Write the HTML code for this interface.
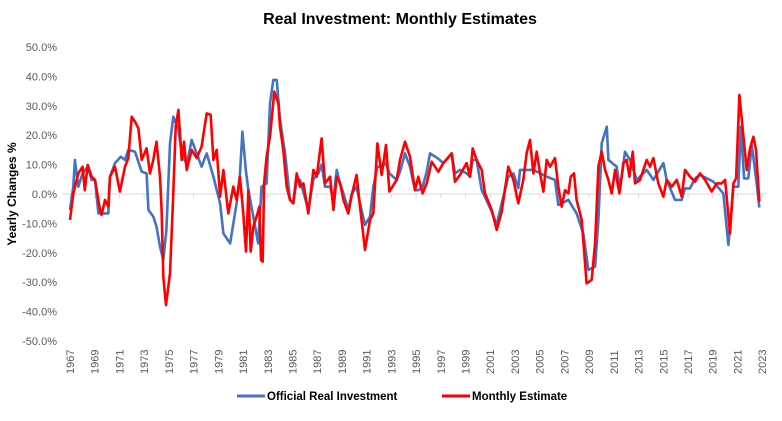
<!DOCTYPE html>
<html><head><meta charset="utf-8"><style>
body{margin:0;background:#fff;width:782px;height:416px;overflow:hidden;font-family:"Liberation Sans",sans-serif}
svg text{font-family:"Liberation Sans",sans-serif}
</style></head><body>
<svg id="chart" width="782" height="416" viewBox="0 0 782 416" xmlns="http://www.w3.org/2000/svg">
<text x="400" y="24" text-anchor="middle" font-size="16" font-weight="bold" fill="#000">Real Investment: Monthly Estimates</text>
<text transform="translate(16,194) rotate(-90)" text-anchor="middle" font-size="12" font-weight="bold" fill="#000">Yearly Changes %</text>
<g id="yticks"></g><g id="xticks"></g><g id="series"></g>
<g>
<line x1="237" y1="396" x2="265" y2="396" stroke="#4472C4" stroke-width="3"/>
<text x="267" y="400" font-size="11.5" font-weight="bold">Official Real Investment</text>
<line x1="442" y1="396" x2="470" y2="396" stroke="#FF0000" stroke-width="3"/>
<text x="472" y="400" font-size="11.5" font-weight="bold">Monthly Estimate</text>
</g>
</svg>
<script>
const yTickVals=[50,40,30,20,10,0,-10,-20,-30,-40,-50];
const xTickYears=[1967,1969,1971,1973,1975,1977,1979,1981,1983,1985,1987,1989,1991,1993,1995,1997,1999,2001,2003,2005,2007,2009,2011,2013,2015,2017,2019,2021,2023];
const redYears=[1967.0,1967.27,1967.67,1968.02,1968.2,1968.43,1968.75,1969.02,1969.43,1969.56,1969.83,1970.1,1970.24,1970.64,1971.04,1971.45,1971.72,1971.99,1972.26,1972.53,1972.8,1973.2,1973.47,1973.74,1974.0,1974.28,1974.41,1974.55,1974.77,1975.09,1975.36,1975.55,1975.77,1976.04,1976.22,1976.44,1976.85,1977.25,1977.65,1978.06,1978.38,1978.6,1978.87,1979.14,1979.41,1979.81,1980.21,1980.48,1980.75,1981.02,1981.24,1981.43,1981.62,1981.83,1982.1,1982.32,1982.45,1982.59,1982.7,1982.91,1983.18,1983.53,1983.86,1983.99,1984.26,1984.53,1984.8,1985.07,1985.34,1985.61,1985.88,1986.28,1986.69,1986.96,1987.36,1987.63,1988.04,1988.31,1988.58,1988.85,1989.12,1989.52,1989.79,1990.19,1990.46,1990.87,1991.27,1991.54,1991.87,1992.22,1992.57,1992.84,1993.43,1993.70,1994.10,1994.51,1994.91,1995.18,1995.53,1995.86,1996.26,1996.80,1997.21,1997.88,1998.15,1998.55,1999.09,1999.36,1999.58,1999.90,2000.31,2000.58,2001.12,2001.52,2001.93,2002.46,2002.87,2003.27,2003.68,2003.95,2004.22,2004.49,2004.76,2005.03,2005.30,2005.57,2005.84,2006.24,2006.51,2006.78,2007.05,2007.32,2007.51,2007.78,2007.99,2008.40,2008.80,2009.21,2009.48,2009.75,2010.02,2010.29,2010.56,2010.83,2011.10,2011.45,2011.77,2012.04,2012.26,2012.53,2012.71,2013.12,2013.66,2013.93,2014.20,2014.60,2015.01,2015.28,2015.68,2016.09,2016.49,2016.76,2017.16,2017.57,2017.97,2018.38,2018.92,2019.32,2019.73,2020.0,2020.40,2020.67,2020.89,2021.16,2021.43,2021.75,2022.02,2022.29,2022.5,2022.77];
const redVals=[-8.8,0.2,7.0,9.3,1.3,9.9,5.9,4.8,-5.4,-7.1,-2.0,-4.3,5.9,9.3,0.8,9.3,12.2,26.3,24.6,22.3,11.6,15.5,7.0,11.6,17.8,5.9,-5.4,-28.1,-37.8,-27.0,0.2,22.9,28.6,11.6,17.8,8.2,15.0,12.2,16.1,27.4,26.9,11.6,15.0,-0.9,8.2,-6.6,2.5,-2.0,5.9,-6.6,-19.6,1.3,-19.6,-11.1,-7.7,-4.3,-22.4,-23.0,3.6,12.7,19.5,34.8,30.8,22.9,15.0,2.5,-2.0,-3.2,7.0,2.5,3.6,-6.6,8.2,5.9,18.9,3.6,5.9,-5.4,5.9,3.6,-2.0,-6.6,-0.4,6.5,-4.3,-19.0,-8.8,-6.6,17.2,6.5,16.7,0.8,4.8,11.6,17.8,12.7,1.3,5.9,0.2,3.6,11.0,7.6,10.5,13.8,4.2,6.5,10.5,5.9,15.5,11.6,8.2,0.2,-5.4,-12.2,-6.0,9.3,4.8,-3.2,5.0,14.0,18.4,7.0,14.4,7.0,0.8,11.6,9.3,12.2,2.5,-4.3,1.3,0.2,5.9,7.0,-2.0,-8.8,-30.4,-29.2,-16.8,9.3,14.4,8.2,4.8,0.2,8.2,0.2,10.5,11.6,5.9,14.4,3.6,4.8,11.6,9.3,12.2,3.6,-0.9,4.8,2.5,4.8,-0.9,8.2,5.9,4.2,7.0,4.8,0.8,3.6,3.6,4.8,-13.4,3.6,5.3,33.7,21.8,8.2,15.5,19.5,15.0,-2.6];
const blueYears=[1967.0,1967.27,1967.4,1967.67,1968.02,1968.43,1968.75,1969.02,1969.3,1970.1,1970.24,1970.64,1971.1,1971.45,1971.72,1972.26,1972.8,1973.2,1973.34,1973.74,1974.0,1974.28,1974.55,1974.8,1975.09,1975.36,1975.77,1976.04,1976.44,1976.85,1977.65,1978.06,1978.6,1979.14,1979.41,1979.95,1980.48,1980.75,1980.95,1981.24,1981.43,1981.83,1982.23,1982.5,1982.91,1983.18,1983.45,1983.72,1983.99,1984.4,1984.8,1985.07,1985.34,1985.61,1986.28,1986.69,1987.1,1987.36,1987.63,1988.04,1988.31,1988.58,1988.85,1989.12,1989.52,1989.79,1990.19,1990.46,1990.87,1991.27,1991.54,1991.87,1992.22,1992.57,1992.84,1993.43,1993.70,1994.10,1994.51,1994.91,1995.18,1995.53,1995.86,1996.13,1996.80,1997.21,1997.88,1998.15,1998.55,1999.09,1999.36,1999.58,1999.90,2000.31,2000.58,2001.12,2001.52,2001.93,2002.46,2002.87,2003.27,2003.41,2004.49,2005.57,2006.24,2006.51,2007.32,2007.99,2008.53,2008.93,2009.48,2009.75,2010.02,2010.43,2010.56,2011.23,2011.5,2011.90,2012.31,2012.85,2013.66,2014.20,2015.01,2015.28,2015.95,2016.49,2016.76,2017.16,2017.57,2017.97,2019.05,2019.86,2020.27,2020.67,2021.07,2021.27,2021.54,2021.88,2022.16,2022.56,2022.77];
const blueVals=[-5.4,2.5,11.6,2.5,7.0,9.3,4.8,4.8,-6.6,-6.6,5.9,10.5,12.7,11.6,15.0,14.4,7.6,7.0,-5.4,-7.7,-11.1,-17.9,-22.4,-12.2,17.2,26.3,22.0,14.0,10.0,18.4,9.3,13.8,5.9,-3.2,-13.4,-16.8,-3.2,6.5,21.2,7.6,1.3,-7.7,-16.8,2.5,3.6,30.8,38.8,38.8,25.2,13.8,-2.0,-3.2,5.0,4.8,-5.4,5.0,7.0,10.0,2.5,2.5,-2.0,8.2,3.6,0.2,-5.4,0.0,2.5,-3.2,-10.5,-7.7,2.5,9.3,9.3,10.5,7.0,4.8,7.6,13.8,9.3,1.3,1.3,2.5,7.6,13.8,12.0,10.5,13.8,7.0,8.2,7.0,5.9,11.6,11.6,1.3,-1.0,-6.0,-10.5,-3.2,5.9,7.0,2.0,8.2,8.2,5.9,4.8,-3.7,-2.0,-6.6,-13.4,-25.8,-24.7,-8.8,17.2,22.9,11.6,9.3,1.3,14.4,11.6,4.8,8.2,4.8,10.5,4.8,-2.0,-2.0,1.9,1.9,5.3,6.5,4.2,0.2,-17.3,2.5,2.5,22.9,5.3,5.3,16.7,3.6,-4.6];

const NS='http://www.w3.org/2000/svg';
const X0=70, PXY=12.36, Y0=194, PXV=2.94;
function xScale(yr){return X0+(yr-1967)*PXY;}
function yScale(v){return Y0-v*PXV;}
function mk(tag,attrs,parent){const e=document.createElementNS(NS,tag);for(const k in attrs)e.setAttribute(k,attrs[k]);parent.appendChild(e);return e;}
const yt=document.getElementById('yticks');
yTickVals.forEach(v=>{
  const t=mk('text',{x:57,y:yScale(v)+4,'text-anchor':'end','font-size':'11',fill:'#595959'},yt);
  
  
  t.textContent=v.toFixed(1)+'%';
});
const xt=document.getElementById('xticks');
const axis=mk('line',{x1:62,y1:Y0,x2:766,y2:Y0,stroke:'#d9d9d9','stroke-width':1},xt);


xTickYears.forEach(yr=>{
  const x=xScale(yr);
  const tk=mk('line',{x1:x,y1:Y0,x2:x,y2:Y0+4,stroke:'#d9d9d9','stroke-width':1},xt);
  
  
  const t=mk('text',{transform:'translate('+(x+4)+',374) rotate(-90)','font-size':'11',fill:'#595959'},xt);
  
  
  t.textContent=yr;
});
const sg=document.getElementById('series');
function path(ys,vs){return ys.map((y,i)=>(i?'L':'M')+xScale(y).toFixed(1)+','+yScale(vs[i]).toFixed(1)).join(' ');}
const pb=mk('path',{d:path(blueYears,blueVals),fill:'none',stroke:'#4472C4','stroke-width':2.6,'stroke-linejoin':'round'},sg);


const pr=mk('path',{d:path(redYears,redVals),fill:'none',stroke:'#FF0000','stroke-width':2.6,'stroke-linejoin':'round'},sg);


</script>
</body></html>
